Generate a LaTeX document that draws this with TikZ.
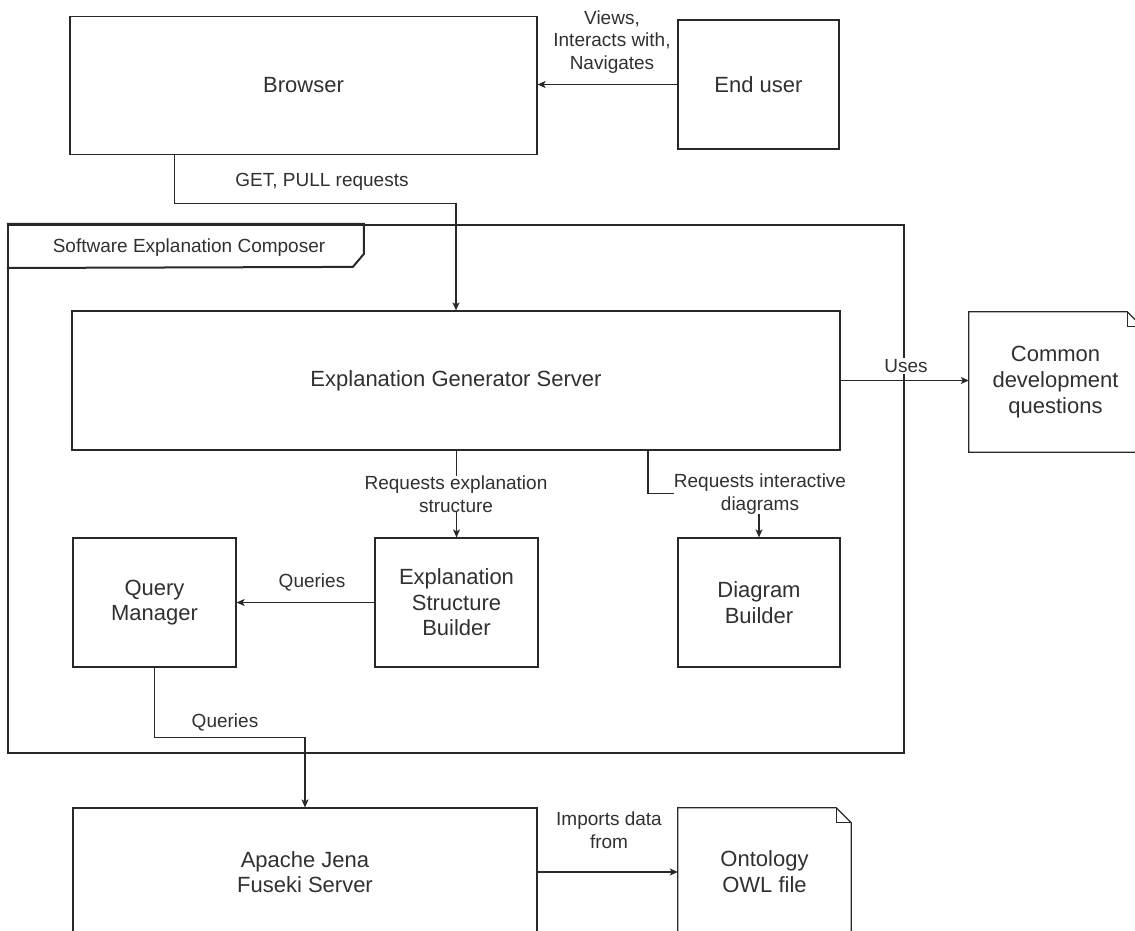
\documentclass[tikz,border=0pt]{standalone}
\usepackage{fontspec}
\setmainfont{Liberation Sans}
\usetikzlibrary{arrows.meta}
\definecolor{ink}{RGB}{40,40,40}
\definecolor{txt}{RGB}{48,48,48}
\begin{document}
\begin{tikzpicture}[x=1pt,y=-1pt,
  every node/.style={text=txt},
  box/.style={draw=ink, line width=1.2pt, inner sep=0pt, align=center,
    font=\fontsize{22}{25.5}\selectfont},
  docbox/.style={inner sep=0pt, align=center, font=\fontsize{22}{26}\selectfont},
  lbl/.style={font=\fontsize{19}{22.5}\selectfont, align=center, inner sep=1pt},
  conn/.style={draw=ink, line width=1.2pt, -{Stealth[length=8pt,width=7pt,inset=2pt]}},
  outline/.style={draw=ink, line width=1.2pt}]
\useasboundingbox (0,0) rectangle (1135,931);
\clip (0,0) rectangle (1135,931);

% outline of a document with a folded top-right corner
\newcommand\docoutline[1]{%
  \draw[outline] (#1.south west) -- (#1.north west) -- ([xshift=-15pt]#1.north east)
    -- ([yshift=-15pt]#1.north east) -- (#1.south east) -- cycle;
  \draw[outline, line width=0.9pt] ([xshift=-15pt]#1.north east)
    -- ([xshift=-15pt,yshift=-15pt]#1.north east) -- ([yshift=-15pt]#1.north east);}

% composer frame with its name tab
\node[draw=ink, line width=2.2pt, minimum width=896pt, minimum height=528pt, inner sep=0pt]
  (sec) at (456,489) {};
\draw[draw=ink, line width=2pt] (sec.north west) -- ++(357,0) -- ++(0,30) -- ++(-11,13) -- (sec.north west |- 0,268);
\node[font=\fontsize{19}{22}\selectfont] (seclbl) at (189,248) {Software Explanation Composer};

% boxes
\node[box, minimum width=467pt, minimum height=138pt] (br) at (303.5,85.5) {Browser};
\node[box, minimum width=161pt, minimum height=129pt] (eu) at (758.5,84.5) {End user};
\node[box, minimum width=768pt, minimum height=139pt] (esg) at (456,380.5) {Explanation Generator Server};
\node[box, minimum width=163pt, minimum height=129pt] (qm) at (154.5,602.5) {Query\\Manager};
\node[box, minimum width=163pt, minimum height=129pt] (esb) at (456.5,602.5) {Explanation\\Structure\\Builder};
\node[box, minimum width=162pt, minimum height=129pt] (db) at (759,602.5) {Diagram\\Builder};
\node[box, minimum width=464pt, minimum height=128pt] (ap) at (305,872) {Apache Jena\\Fuseki Server};

% documents
\node[docbox, minimum width=173pt, minimum height=140pt] (cdq) at (1055.5,382) {Common\\development\\questions};
\docoutline{cdq}
\node[docbox, minimum width=173pt, minimum height=128pt] (owl) at (764.5,872) {Ontology\\OWL file};
\docoutline{owl}

% connectors
\draw[conn] (eu.west) -- (eu.west -| br.east);
\node[lbl] (l1) at (612,42) {Views,\\Interacts with,\\Navigates};

\draw[conn] ([xshift=105pt]br.south west) -- ++(0,48) -| (esg.north);
\node[lbl] (l2) at (322,182) {GET, PULL requests};

\draw[conn] (esg.east) -- (esg.east -| cdq.west);
\node[lbl, fill=white] (l3) at (906,366) {Uses};

\draw[conn] (esg.south -| esb.north) -- (esb.north);
\node[lbl, fill=white, inner sep=0pt] (l4) at (456,494) {Requests explanation\\structure};

\draw[conn] ([xshift=192pt]esg.south) -- ++(0,43) -| (db.north);
\node[lbl, fill=white, inner sep=0pt] (l5) at (760,494) {Requests interactive\\diagrams};

\draw[conn] (esb.west) -- (esb.west -| qm.east);
\node[lbl] (l6) at (312,582) {Queries};

\draw[conn] (qm.south) -- ++(0,70) -| (ap.north);
\node[lbl] (l7) at (225,722) {Queries};

\draw[conn] (ap.east) -- (ap.east -| owl.west);
\node[lbl] (l8) at (609,830) {Imports data\\from};
\end{tikzpicture}
\end{document}
